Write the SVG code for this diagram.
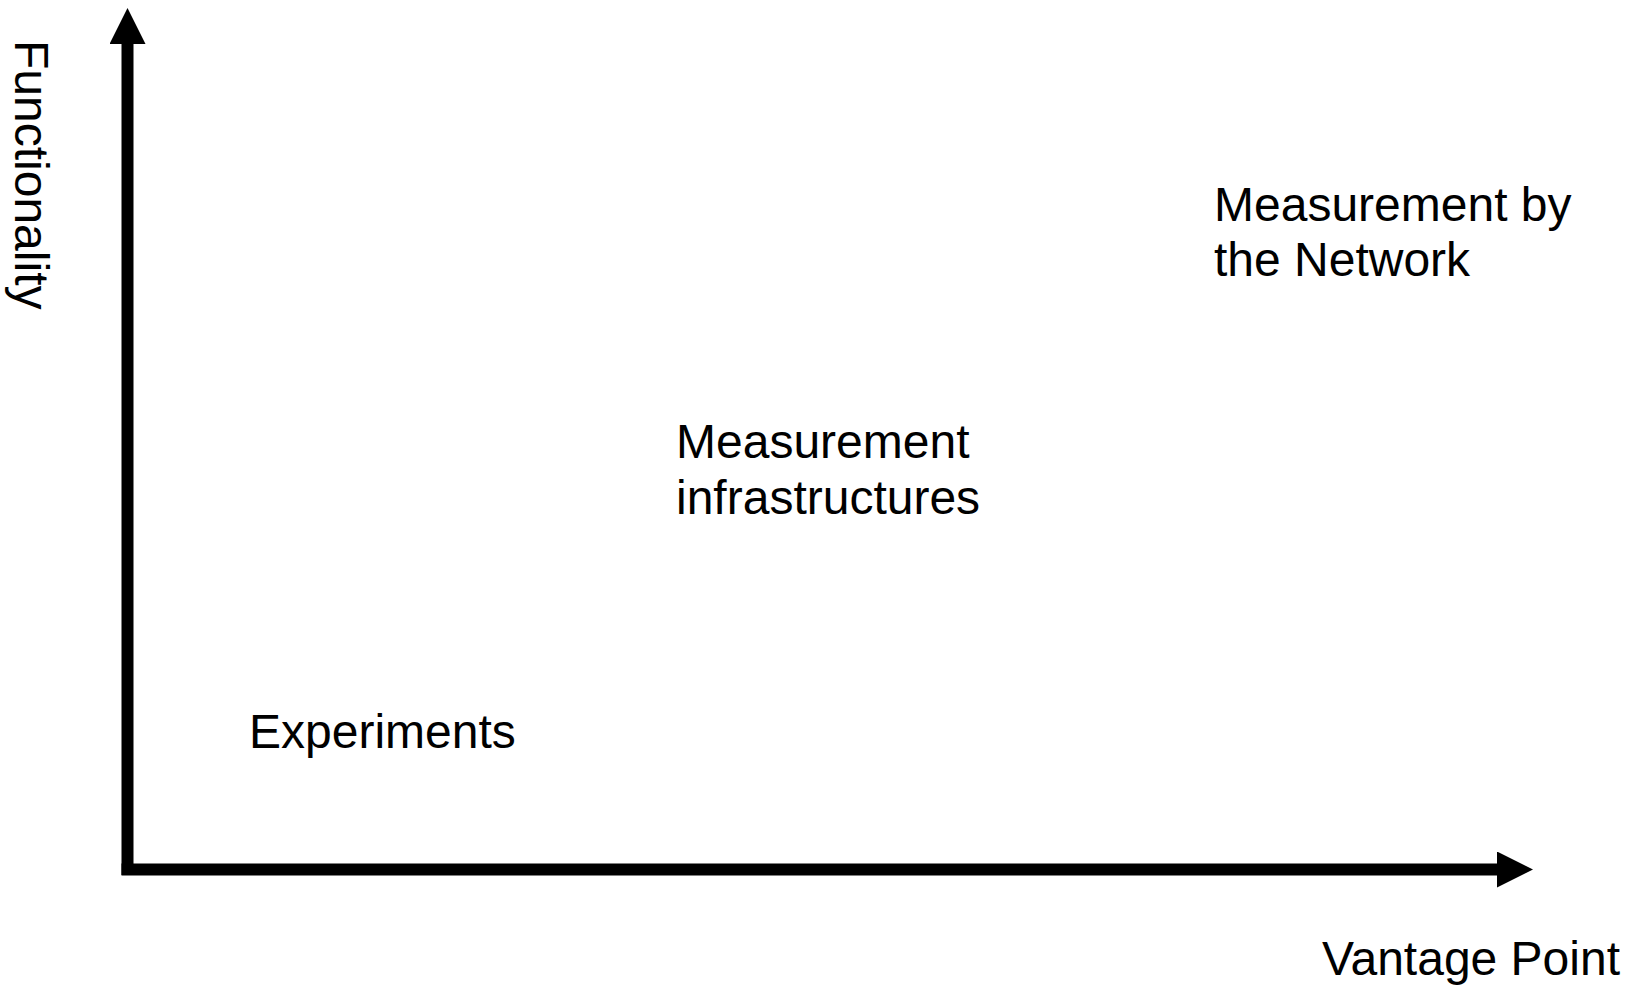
<svg xmlns="http://www.w3.org/2000/svg" width="1625" height="988" viewBox="0 0 1625 988">
<style>
.t{font-family:"Liberation Sans",Arial,sans-serif;font-size:48px;fill:#000}
.ax{stroke:#000;stroke-width:12;fill:none}
</style>
<defs>
<marker id="ah" markerUnits="userSpaceOnUse" markerWidth="36" markerHeight="36" viewBox="0 0 36 36" refX="0" refY="18" orient="auto">
<path d="M0,0 L36,18 L0,36 Z" fill="#000"/>
</marker>
</defs>
<rect width="1625" height="988" fill="#fff"/>
<g id="connectors">
<line class="ax" x1="127.5" y1="875" x2="127.5" y2="44" marker-end="url(#ah)"/>
<line class="ax" x1="121.5" y1="869.5" x2="1497" y2="869.5" marker-end="url(#ah)"/>
</g>
<g id="y-axis-label"><text class="t" transform="translate(15,40) rotate(90)">Functionality</text></g>
<g id="x-axis-label"><text class="t" x="1322" y="975">Vantage Point</text></g>
<g id="experiments"><text class="t" x="249" y="748">Experiments</text></g>
<g id="measurement-infrastructures"><text class="t" x="676" y="458">Measurement<tspan x="676" dy="56">infrastructures</tspan></text></g>
<g id="measurement-by-network"><text class="t" x="1214" y="221">Measurement by<tspan x="1214" dy="55">the Network</tspan></text></g>
</svg>
